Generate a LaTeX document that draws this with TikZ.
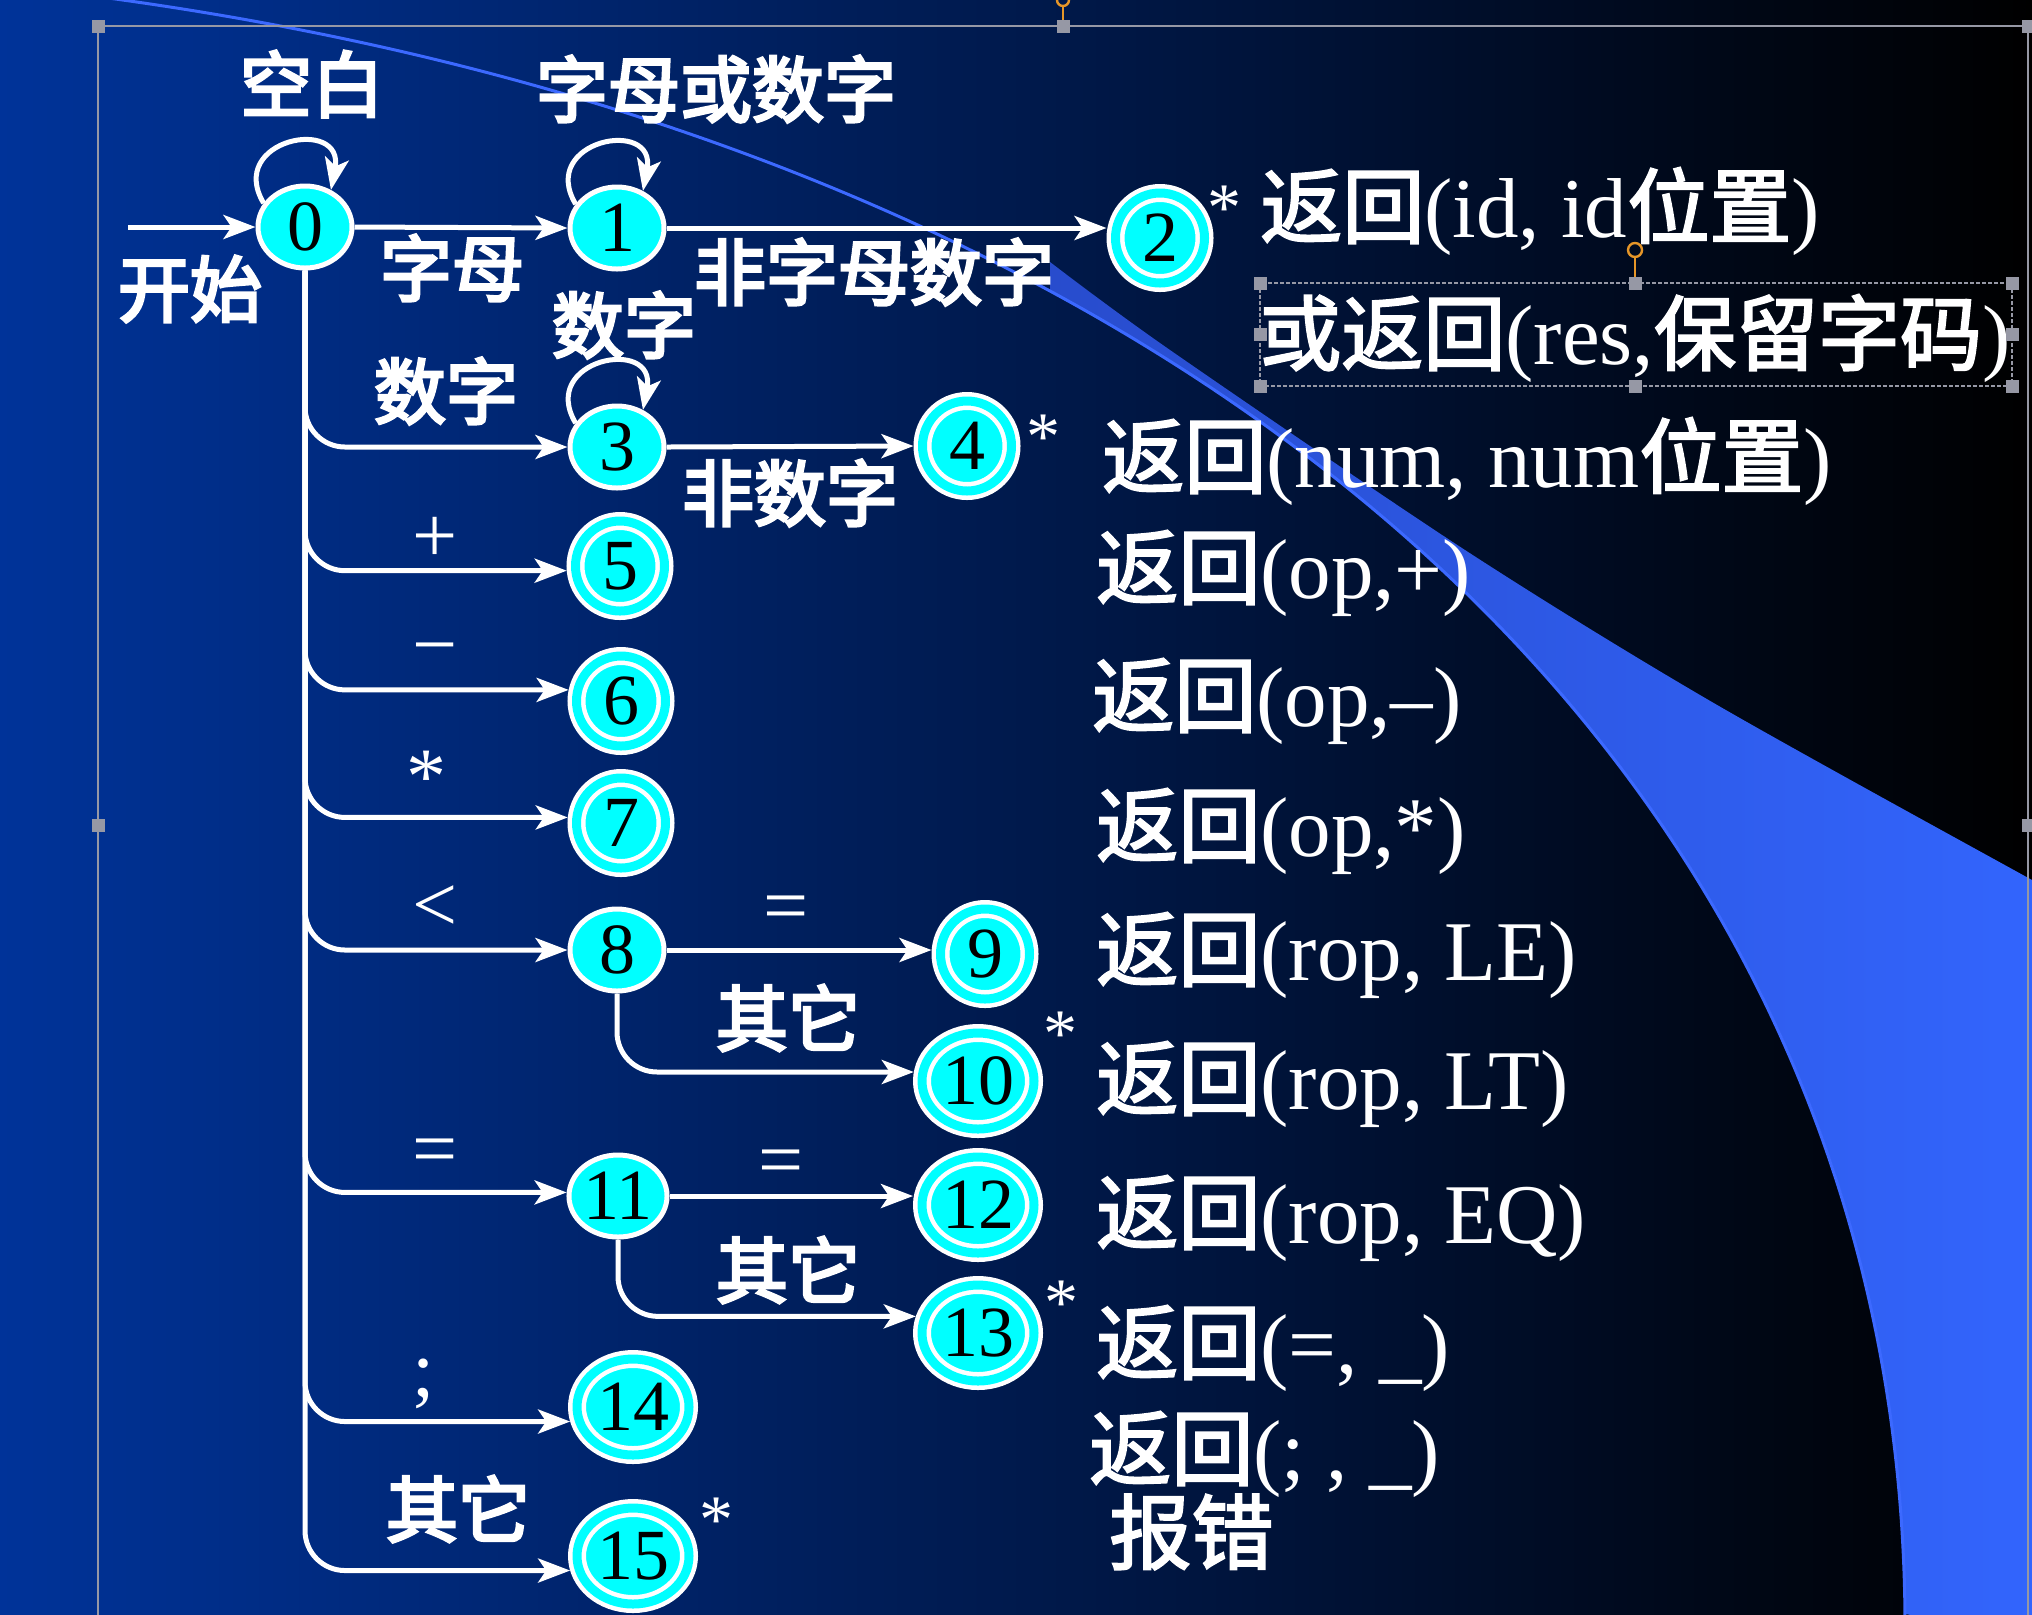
\documentclass[tikz,border=0pt]{standalone}
\usepackage{fontspec}
\setmainfont{Liberation Serif}
\newfontfamily\cjkfont{Noto Sans CJK SC}[FakeBold=2.5]
\newfontfamily\cjklab{Noto Sans CJK SC}[FakeBold=4]
\usetikzlibrary{arrows.meta,shapes.geometric,calc}
\newcommand\zhx[1]{{\cjkfont\fontsize{41pt}{41pt}\selectfont #1}}
\definecolor{cy}{RGB}{0,255,255}
\definecolor{bgL}{RGB}{0,51,153}
\definecolor{bgM}{RGB}{0,34,104}
\definecolor{swA}{RGB}{40,76,205}
\definecolor{swB}{RGB}{51,102,255}
\definecolor{arcC}{RGB}{60,105,255}
\definecolor{selG}{RGB}{150,152,165}
\definecolor{rotO}{RGB}{230,150,40}
\tikzset{
  sst/.style={ellipse, draw=white, fill=cy, line width=2.5pt, inner sep=0pt,
    minimum width=47pt, minimum height=41pt, outer sep=1.25pt,
    font=\fontsize{36pt}{36pt}\selectfont, text=black},
  dst/.style={ellipse, draw=white, fill=cy, line width=2.25pt, double=cy,
    double distance=4.5pt, inner sep=0pt, minimum width=44.5pt, minimum height=45pt,
    outer sep=4.5pt, font=\fontsize{36pt}{36pt}\selectfont, text=black},
  dstw/.style={dst, minimum width=56pt, minimum height=48pt},
  edge/.style={draw=white, line width=2.5pt, -{Stealth[length=16pt,width=12pt,inset=4pt]}},
  lab/.style={text=white, inner sep=0pt, font=\cjklab\fontsize{36pt}{36pt}\selectfont},
  sym/.style={text=white, inner sep=0pt, font=\fontsize{40pt}{40pt}\selectfont},
  star/.style={text=white, inner sep=0pt, font=\fontsize{34pt}{34pt}\selectfont},
  rtext/.style={text=white, inner sep=0pt, anchor=base west, font=\fontsize{42.5pt}{42.5pt}\selectfont},
  hdl/.style={fill=selG, minimum size=6.5pt, inner sep=0pt},
}
\begin{document}
\begin{tikzpicture}[x=0.5pt,y=-0.5pt]
\useasboundingbox (0,0) rectangle (2032,1614);
% background
\shade[left color=bgL, middle color=bgM, right color=black] (0,0) rectangle (2032,1614);
% swoosh
\begin{scope}
  \clip (0,-15) .. controls (1100,100) and (1900,700) .. (1905,1614) -- (2060,1640) -- (2060,-15) -- cycle;
  \shade[left color=swA, right color=swB] plot[smooth] coordinates {(1050,262) (1170,350) (1465,550) (1712,702) (2032,880) (2070,900)} -- (2070,1640) -- (1050,1640) -- cycle;
\end{scope}
\draw[arcC, line width=1.5pt] (0,-15) .. controls (1100,100) and (1900,700) .. (1905,1620);
% frame lines
\draw[selG, line width=1pt] (98,26) -- (2040,26) (98,26) -- (98,1620) (2028,26) -- (2028,1620);

% states
\node[sst] (n0) at (305,227) {0};
\node[sst] (n1) at (617,228) {1};
\node[dst] (n2) at (1160,238) {2};
\node[sst] (n3) at (617,447) {3};
\node[dst] (n4) at (967,446) {4};
\node[dst] (n5) at (620,566) {5};
\node[dst] (n6) at (621,701) {6};
\node[dst] (n7) at (621,823) {7};
\node[sst] (n8) at (617,950) {8};
\node[dst] (n9) at (985,954) {9};
\node[dstw] (n10) at (978,1081) {10};
\node[sst] (n11) at (618,1196) {11};
\node[dstw] (n12) at (978,1205) {12};
\node[dstw] (n13) at (978,1333) {13};
\node[dstw] (n14) at (633,1407) {14};
\node[dstw] (n15) at (633,1556) {15};

% edges
\coordinate (st) at (128,227);
\draw[edge] (st) -- (n0.west);
\draw[edge] (n0.east) -- (n1.west);
\draw[edge] (n1.east) -- (n1.east -| n2.west);
\draw[edge] (n3.east) -- (n4.west);
\draw[edge] (n8.east) -- (n8.east -| n9.west);
\draw[edge] (n11.east) -- (n11.east -| n12.west);
\draw[edge, rounded corners=20pt] (n8.south) |- (n10.172);
\draw[edge, rounded corners=20pt] (n11.south) |- (n13.165);
\draw[edge, rounded corners=20pt] (n0.south) |- (n3.west);
\draw[edge, rounded corners=20pt] (n0.south) |- (n5.185);
\draw[edge, rounded corners=20pt] (n0.south) |- (n6.168);
\draw[edge, rounded corners=20pt] (n0.south) |- (n7.174);
\draw[edge, rounded corners=20pt] (n0.south) |- (n8.west);
\draw[edge, rounded corners=20pt] (n0.south) |- (n11.176);
\draw[edge, rounded corners=20pt] (n0.south) |- (n14.193);
\draw[edge, rounded corners=20pt] (n0.south) |- (n15.193);
% loops
\draw[edge] (n0.150) .. controls +(-38,-64) and +(14,-74) .. (n0.55);
\draw[edge] (n1.150) .. controls +(-38,-64) and +(14,-74) .. (n1.55);
\draw[edge] (n3.150) .. controls +(-38,-64) and +(14,-74) .. (n3.55);

% edge labels
\node[lab] (t0) at (312,84) {空白};
\node[lab] (t1) at (716,89) {字母或数字};
\node[lab] (t2) at (190,289) {开始};
\node[lab] (t3) at (452,268) {字母};
\node[lab] (t4) at (874,272) {非字母数字};
\node[lab] (t5) at (624,325) {数字};
\node[lab] (t6) at (446,391) {数字};
\node[lab] (t7) at (790,493) {非数字};
\node[sym] (t8) at (435,540) {+};
\node[sym] (t9) at (435,657) {−};
\node[sym] (t10) at (426,777) {*};
\node[sym] (t11) at (435,909) {<};
\node[sym] (t12) at (786,914) {=};
\node[lab] (t13) at (788,1018) {其它};
\node[sym] (t14) at (435,1157) {=};
\node[sym] (t15) at (781,1168) {=};
\node[lab] (t16) at (788,1270) {其它};
\node[sym] (t17) at (424,1384) {;};
\node[lab] (t18) at (458,1509) {其它};

% stars
\node[star] (s2) at (1224,208) {*};
\node[star] (s4) at (1043,437) {*};
\node[star] (s10) at (1060,1034) {*};
\node[star] (s13) at (1061,1303) {*};
\node[star] (s15) at (716,1520) {*};

% actions
\node[rtext] (r1) at (1260,237) {\zhx{返回}(id, id\zhx{位置})};
\node[rtext] (r2) at (1259,364) {\zhx{或返回}(res,\zhx{保留字码})};
\node[rtext] (r3) at (1102,487) {\zhx{返回}(num, num\zhx{位置})};
\node[rtext] (r4) at (1096,598) {\zhx{返回}(op,+)};
\node[rtext] (r5) at (1092,726) {\zhx{返回}(op,–)};
\node[rtext] (r6) at (1096,856) {\zhx{返回}(op,*)};
\node[rtext] (r7) at (1096,980) {\zhx{返回}(rop, LE)};
\node[rtext] (r8) at (1096,1109) {\zhx{返回}(rop, LT)};
\node[rtext] (r9) at (1096,1243) {\zhx{返回}(rop, EQ)};
\node[rtext] (r10) at (1096,1373) {\zhx{返回}(=, \_)};
\node[rtext] (r11) at (1089,1479) {\zhx{返回}(; , \_)};
\node[rtext] (r12) at (1109,1563) {\zhx{报错}};

% selection handles
\draw[selG, line width=0.8pt, dash pattern=on 2pt off 1pt] (1260,283) rectangle (2012,386);
\draw[rotO, line width=1pt] (1635,283) -- (1635,257);
\draw[rotO, line width=1.2pt] (1635,250) circle (3.5pt);
\draw[rotO, line width=1pt] (1063,20) -- (1063,5);
\draw[rotO, line width=1.2pt] (1063,0) circle (3pt);
\foreach \p in {(98,26),(1063,26),(2028,26),(98,825),(2028,825),
  (1260,283),(1635,283),(2012,283),(1260,334),(2012,334),(1260,386),(1635,386),(2012,386)}
  \node[hdl] at \p {};
\end{tikzpicture}
\end{document}
